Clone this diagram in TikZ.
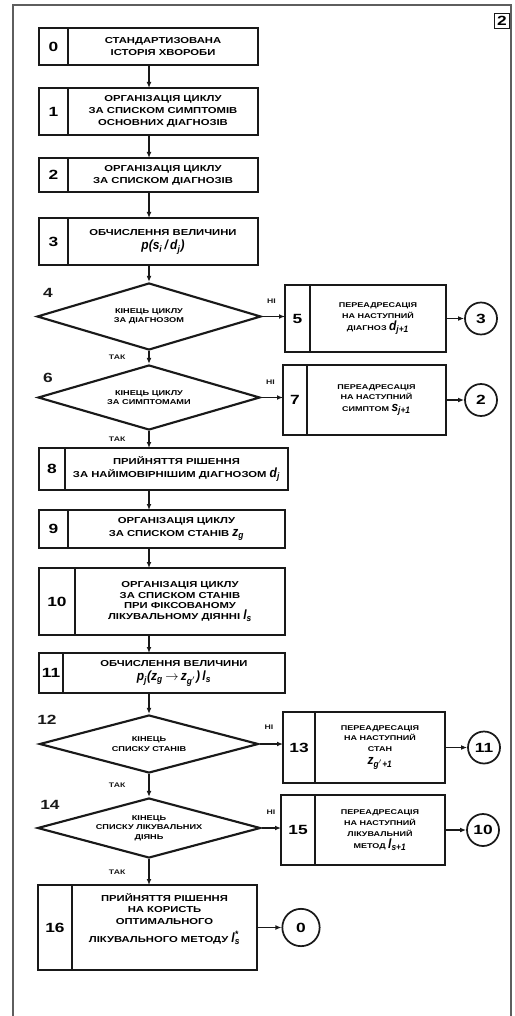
\documentclass[tikz,border=0pt]{standalone}
\usepackage{fontspec}
\usetikzlibrary{arrows.meta,positioning,shapes.geometric}
\newfontfamily\labfont[FakeStretch=1.3]{Liberation Sans}
\newfontfamily\varfont[FakeStretch=0.9]{Liberation Sans}
\definecolor{ink}{RGB}{25,25,25}
\newcommand\cellfont{\labfont\bfseries\fontsize{6.5}{9.2}\selectfont}
\newcommand\sidefont{\labfont\bfseries\fontsize{5.2}{8}\selectfont}
\newcommand\condfont{\labfont\bfseries\fontsize{5.3}{7}\selectfont}
\newcommand\numfont{\labfont\bfseries\fontsize{10}{11}\selectfont}
\newcommand\tagfont{\labfont\bfseries\fontsize{5}{6}\selectfont}
\newcommand\vv[1]{{\varfont\itshape\fontsize{10}{11}\selectfont #1}}
\tikzset{
  >={Latex[length=4.5pt,width=3.6pt]},
  cell/.style 2 args={draw=ink,line width=1.6pt,outer sep=0pt,inner sep=1pt,align=center,
    font=\cellfont,minimum width=#1,minimum height=#2},
  side/.style 2 args={cell={#1}{#2},font=\sidefont},
  numcell/.style 2 args={draw=ink,line width=1.6pt,outer sep=0pt,inner sep=0pt,
    font=\numfont,minimum width=#1,minimum height=#2},
  cond/.style 2 args={diamond,draw=ink,line width=1.6pt,inner sep=0pt,align=center,
    font=\condfont,minimum width=#1,minimum height=#2},
  conn/.style={circle,draw=ink,line width=1.3pt,inner sep=0pt,minimum size=#1,font=\numfont},
  conn/.default=24pt,
  flow/.style={->,line width=0.9pt,draw=ink},
  tag/.style={font=\tagfont,text=ink},
  stepno/.style={font=\numfont,text=ink},
}
\begin{document}
\begin{tikzpicture}[x=0.75pt,y=-0.75pt]
    \useasboundingbox (0,0) rectangle (514,1016);
    \draw[ink!70,line width=1.1pt] (13,1016) |- (511,5) -- (511,1016);
    \node[draw=ink,line width=1pt,font=\numfont,minimum size=11pt,inner sep=0pt] (pg) at (502,21) {2};
    \coordinate (sp) at (149,0);
    % main column
    \node[numcell={21.75pt}{27.75pt}] (n0) at (53.5,46.5) {0};
    \node[cell={142.5pt}{27.75pt},right=0pt of n0] (t0) {СТАНДАРТИЗОВАНА\\ІСТОРІЯ ХВОРОБИ};
    \node[numcell={21.75pt}{35.25pt}] (n1) at (53.5,111.5) {1};
    \node[cell={142.5pt}{35.25pt},right=0pt of n1] (t1) {ОРГАНІЗАЦІЯ ЦИКЛУ\\ЗА СПИСКОМ СИМПТОМІВ\\ОСНОВНИХ ДІАГНОЗІВ};
    \node[numcell={21.75pt}{25.5pt}] (n2) at (53.5,175) {2};
    \node[cell={142.5pt}{25.5pt},right=0pt of n2] (t2) {ОРГАНІЗАЦІЯ ЦИКЛУ\\ЗА СПИСКОМ ДІАГНОЗІВ};
    \node[numcell={21.75pt}{35.25pt}] (n3) at (53.5,241.5) {3};
    \node[cell={142.5pt}{35.25pt},right=0pt of n3] (t3) {ОБЧИСЛЕННЯ ВЕЛИЧИНИ\\[2pt]\vv{p(s\textsubscript{i}\,/\,d\textsubscript{j})}};
    \node[cond={168pt}{50.25pt},aspect=3.34] (d4) at (149,316.5) {КІНЕЦЬ ЦИКЛУ\\ЗА ДІАГНОЗОМ};
    \node[cond={166.5pt}{48.75pt},aspect=3.42] (d6) at (149,397.5) {КІНЕЦЬ ЦИКЛУ\\ЗА СИМПТОМАМИ};
    \node[numcell={19.5pt}{31.5pt}] (n8) at (52,469) {8};
    \node[cell={167.25pt}{31.5pt},right=0pt of n8,inner sep=0pt] (t8) {ПРИЙНЯТТЯ РІШЕННЯ\\ЗА НАЙІМОВІРНІШИМ ДІАГНОЗОМ \vv{d\textsubscript{j}}};
    \node[numcell={21.75pt}{28.5pt}] (n9) at (53.5,529) {9};
    \node[cell={162.75pt}{28.5pt},right=0pt of n9] (t9) {ОРГАНІЗАЦІЯ ЦИКЛУ\\ЗА СПИСКОМ СТАНІВ \vv{z\textsubscript{g}}};
    \node[numcell={27pt}{50.25pt}] (n10) at (57,601.5) {10};
    \node[cell={157.5pt}{50.25pt},right=0pt of n10,font=\labfont\bfseries\fontsize{6.5}{7.8}\selectfont] (t10) {ОРГАНІЗАЦІЯ ЦИКЛУ\\ЗА СПИСКОМ СТАНІВ\\ПРИ ФІКСОВАНОМУ\\ЛІКУВАЛЬНОМУ ДІЯННІ \vv{l\textsubscript{s}}};
    \node[numcell={18pt}{30pt}] (n11) at (51,673) {11};
    \node[cell={166.5pt}{30pt},right=0pt of n11] (t11) {ОБЧИСЛЕННЯ ВЕЛИЧИНИ\\[2pt]\vv{p\textsubscript{j}(z\textsubscript{g}\,$\rightarrow$\,z\textsubscript{g$'$})\,l\textsubscript{s}}};
    \node[cond={164.25pt}{43.5pt},aspect=3.78] (d12) at (149,744) {КІНЕЦЬ\\СПИСКУ СТАНІВ};
    \node[cond={167.25pt}{45pt},aspect=3.72] (d14) at (149,828) {КІНЕЦЬ\\СПИСКУ ЛІКУВАЛЬНИХ\\ДІЯНЬ};
    \node[numcell={25.5pt}{63.75pt}] (n16) at (55,927.5) {16};
    \node[cell={138.75pt}{63.75pt},right=0pt of n16,font=\labfont\bfseries\fontsize{6.5}{8.4}\selectfont] (t16) {ПРИЙНЯТТЯ РІШЕННЯ\\НА КОРИСТЬ\\ОПТИМАЛЬНОГО\\[4pt]ЛІКУВАЛЬНОГО МЕТОДУ \vv{l\rlap{\textsuperscript{*}}\textsubscript{s}}\\[6pt]};
    % side column
    \node[numcell={18.75pt}{50.25pt}] (n5) at (297.5,318.5) {5};
    \node[side={102pt}{50.25pt},right=0pt of n5] (t5) {ПЕРЕАДРЕСАЦІЯ\\НА НАСТУПНИЙ\\[1pt]ДІАГНОЗ \vv{d\textsubscript{j+1}}};
    \node[numcell={18pt}{52.5pt}] (n7) at (295,400) {7};
    \node[side={104.25pt}{52.5pt},right=0pt of n7] (t7) {ПЕРЕАДРЕСАЦІЯ\\НА НАСТУПНИЙ\\[1pt]СИМПТОМ \vv{s\textsubscript{j+1}}};
    \node[numcell={24pt}{53.25pt}] (n13) at (299,747.5) {13};
    \node[side={97.5pt}{53.25pt},right=0pt of n13] (t13) {ПЕРЕАДРЕСАЦІЯ\\НА НАСТУПНИЙ\\СТАН\\[2pt]\vv{z\textsubscript{g$'$+1}}};
    \node[numcell={25.5pt}{52.5pt}] (n15) at (298,830) {15};
    \node[side={97.5pt}{52.5pt},right=0pt of n15] (t15) {ПЕРЕАДРЕСАЦІЯ\\НА НАСТУПНИЙ\\ЛІКУВАЛЬНИЙ\\[1pt]МЕТОД \vv{l\textsubscript{s+1}}};
    \node[conn] (c3) at (481,0 |- t5) {3};
    \node[conn] (c2) at (481,0 |- t7) {2};
    \node[conn] (c11) at (484,0 |- t13) {11};
    \node[conn] (c10) at (483,0 |- t15) {10};
    \node[conn=28pt] (c0) at (301,0 |- t16) {0};
    % step numbers of the tests
    \node[stepno] (s4) at (48,293) {4};
    \node[stepno] (s6) at (48,378) {6};
    \node[stepno] (s12) at (47,720) {12};
    \node[stepno] (s14) at (50,805) {14};
    % flow
    \draw[flow] (t0.south -| sp) -- (t1.north -| sp);
    \draw[flow] (t1.south -| sp) -- (t2.north -| sp);
    \draw[flow] (t2.south -| sp) -- (t3.north -| sp);
    \draw[flow] (t3.south -| sp) -- (d4.north);
    \draw[flow] (d4.south) -- node[tag,left=14pt]{ТАК} (d6.north);
    \draw[flow] (d6.south) -- node[tag,left=14pt]{ТАК} (t8.north -| sp);
    \draw[flow] (t8.south -| sp) -- (t9.north -| sp);
    \draw[flow] (t9.south -| sp) -- (t10.north -| sp);
    \draw[flow] (t10.south -| sp) -- (t11.north -| sp);
    \draw[flow] (t11.south -| sp) -- (d12.north);
    \draw[flow] (d12.south) -- node[tag,left=14pt]{ТАК} (d14.north);
    \draw[flow] (d14.south) -- node[tag,left=14pt]{ТАК} (t16.north -| sp);
    \draw[flow] (d4.east) -- node[tag,pos=0,anchor=south west,yshift=6pt]{НІ} (d4.east -| n5.west);
    \draw[flow] (d6.east) -- node[tag,pos=0,anchor=south west,yshift=6pt]{НІ} (d6.east -| n7.west);
    \draw[flow] (d12.east) -- node[tag,pos=0,anchor=south west,yshift=7pt]{НІ} (d12.east -| n13.west);
    \draw[flow] (d14.east) -- node[tag,pos=0,anchor=south west,yshift=6pt]{НІ} (d14.east -| n15.west);
    \draw[flow] (t5) -- (c3);
    \draw[flow] (t7) -- (c2);
    \draw[flow] (t13) -- (c11);
    \draw[flow] (t15) -- (c10);
    \draw[flow] (t16) -- (c0);
\end{tikzpicture}
\end{document}
